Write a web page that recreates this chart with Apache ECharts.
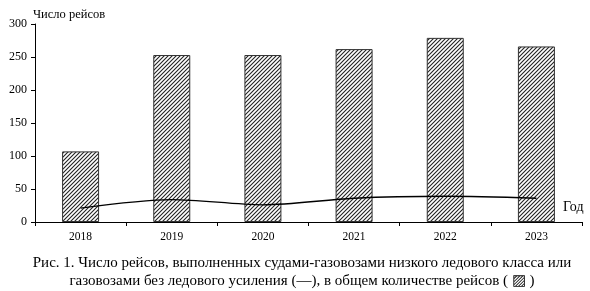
<!DOCTYPE html>
<html><head><meta charset="utf-8">
<script src="https://cdn.jsdelivr.net/npm/echarts@6/dist/echarts.min.js"></script>
<style>html,body{margin:0;padding:0;background:#fff}#c{width:590px;height:291px}</style>
</head><body><div id="c"></div>
<script>
var years = ['2018','2019','2020','2021','2022','2023'];
var totalTrips = [107, 253, 253, 262, 279, 266];
var lowIceTrips = [21, 34, 26, 36, 39, 36];
var yTicks = [0, 50, 100, 150, 200, 250, 300];

function hatch(){
  var s = 4, c = document.createElement('canvas');
  c.width = s; c.height = s;
  var g = c.getContext('2d');
  g.fillStyle = '#fff'; g.fillRect(0,0,s,s);
  g.strokeStyle = '#222'; g.lineWidth = 1.1;
  g.beginPath();
  g.moveTo(0, s); g.lineTo(s, 0);
  g.moveTo(-1, 1); g.lineTo(1, -1);
  g.moveTo(s-1, s+1); g.lineTo(s+1, s-1);
  g.stroke();
  return c;
}
var font = 'Liberation Serif';
var chart = echarts.init(document.getElementById('c'));
chart.setOption({
  animation: false,
  textStyle: {fontFamily: font, color: '#000'},
  grid: {left: 35, right: 8, top: 24, bottom: 69},
  graphic: [
    {type: 'text', left: 563, top: 200, style: {text: 'Год', font: '14px "Liberation Serif"', fill: '#000'}},
    {type: 'text', x: 302, y: 254, style: {
      text: 'Рис. 1. Число рейсов, выполненных судами-газовозами низкого ледового класса или\nгазовозами без ледового усиления (—), в общем количестве рейсов ( ▨ )',
      textAlign: 'center', font: '15px "Liberation Serif"', lineHeight: 18, fill: '#000'}}
  ],
  xAxis: {
    type: 'category', data: years,
    axisLine: {lineStyle: {color: '#000', width: 1}},
    axisTick: {show: true, length: 4, inside: false, lineStyle: {color: '#000'}},
    axisLabel: {fontSize: 11.5, color: '#000', fontFamily: font, margin: 9}
  },
  yAxis: {
    type: 'value', min: yTicks[0], max: yTicks[yTicks.length-1], interval: 50,
    name: 'Число рейсов', nameLocation: 'end', nameGap: 3,
    nameTextStyle: {fontFamily: font, fontSize: 12.5, color: '#000', align: 'left', padding: [0,0,0,-2]},
    axisLine: {show: true, lineStyle: {color: '#000', width: 1}},
    axisTick: {show: true, length: 4, lineStyle: {color: '#000'}},
    axisLabel: {fontSize: 12, color: '#000', fontFamily: font, margin: 8},
    splitLine: {show: false}
  },
  series: [{
    type: 'bar', data: totalTrips, barWidth: 37,
    itemStyle: {color: {image: hatch(), repeat: 'repeat'}, borderColor: '#333', borderWidth: 1}
  },{
    type: 'line', data: lowIceTrips, smooth: 0.3, symbol: 'none',
    lineStyle: {color: '#000', width: 1.3}
  }]
});
</script></body></html>
